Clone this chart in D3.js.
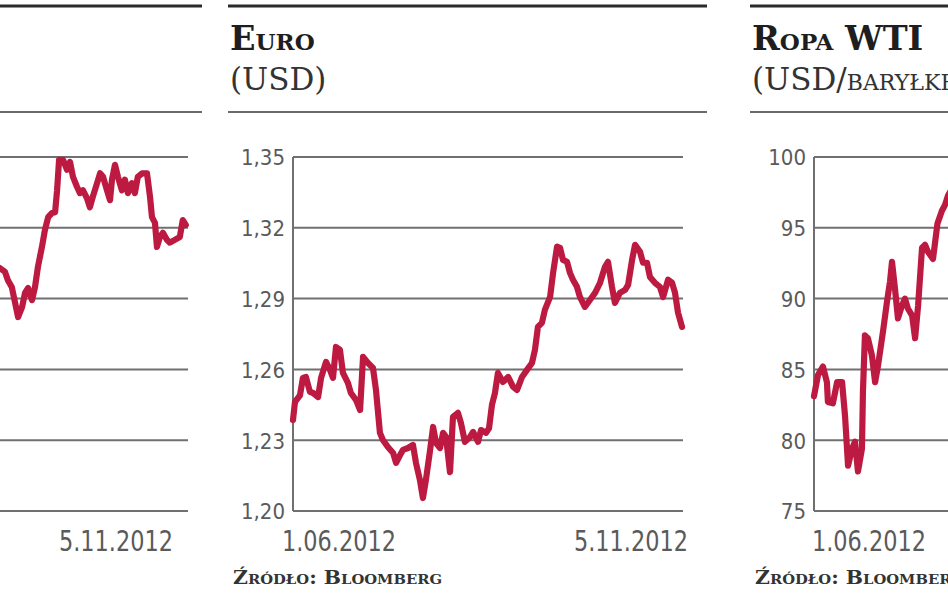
<!DOCTYPE html>
<html><head><meta charset="utf-8">
<script src="https://cdn.jsdelivr.net/npm/d3@7"></script>
<style>
body{margin:0;background:#fff;overflow:hidden}
svg{display:block}
</style></head><body>
<svg id="c" width="948" height="593"></svg>
<script>
// ---- data ----
const startLabel = "1.06.2012", endLabel = "5.11.2012";
const spanDays = 157; // 1.06.2012 -> 5.11.2012

// Left (cropped) panel: values in grid steps (axis labels are outside the picture)
const leftTicks = [0,1,2,3,4,5];
const leftDays = [80,81.3,83.3,84.5,86.1,87.4,88.6,90.2,91.4,92.6,94.2,95.4,96.6,98.2,99.4,100.7,102.3,103.5,104.3,105.1,106.7,108.3,109.5,110.7,112.3,113.5,114.7,116.3,117.5,118.7,120.4,121.6,122.8,124.4,125.6,126.4,127.6,128.8,130.4,131.6,132.8,134.4,135.6,136.8,138.5,140.5,141.7,142.5,143.7,144.5,145.7,146.9,148.5,149.7,151.7,153.7,154.9,156.1];
const leftVals = [3.45,3.43,3.38,3.26,3.16,2.94,2.74,2.88,3.08,3.15,2.98,3.16,3.45,3.73,3.97,4.15,4.21,4.22,4.53,4.96,4.96,4.82,4.93,4.72,4.58,4.49,4.53,4.42,4.29,4.44,4.63,4.77,4.72,4.53,4.39,4.68,4.89,4.72,4.53,4.68,4.49,4.63,4.49,4.72,4.77,4.77,4.44,4.15,4.07,3.73,3.87,3.93,3.83,3.79,3.83,3.87,4.11,4.04];

// Euro (USD)
const euroTicks = [1.20,1.23,1.26,1.29,1.32,1.35];
const euroTickLabels = ["1,20","1,23","1,26","1,29","1,32","1,35"];
const euroDays = [0,0.8,2.8,4.0,5.2,6.8,8.1,10.1,11.3,13.3,14.9,16.1,17.3,18.9,20.1,22.1,23.3,25.4,27.0,28.2,30.2,32.2,33.4,35.0,36.2,38.2,40.3,41.5,43.1,44.3,46.3,48.3,49.5,51.1,52.3,53.5,55.2,56.4,57.6,59.2,60.4,61.6,63.2,64.4,66.4,67.6,69.2,71.3,72.5,74.5,75.7,77.7,78.9,80.1,81.3,82.5,84.5,86.6,88.6,90.2,92.2,94.2,96.2,97.4,98.6,100.2,101.4,103.5,104.7,106.3,107.5,108.7,110.3,111.5,112.7,114.3,115.5,117.5,119.6,121.6,123.6,125.6,126.8,128.4,129.6,131.6,133.7,134.9,136.5,137.7,139.7,140.9,142.5,143.7,145.7,147.7,149.0,151.0,152.6,153.8,155.0,156.6];
const euroVals = [1.2386,1.2462,1.2490,1.2564,1.2568,1.2505,1.2500,1.2483,1.2564,1.2632,1.2598,1.2564,1.2695,1.2683,1.2585,1.2543,1.2500,1.2470,1.2428,1.2653,1.2627,1.2606,1.2513,1.2331,1.2301,1.2271,1.2246,1.2204,1.2237,1.2259,1.2267,1.2280,1.2204,1.2131,1.2055,1.2131,1.2259,1.2356,1.2288,1.2267,1.2331,1.2314,1.2165,1.2399,1.2416,1.2373,1.2293,1.2314,1.2335,1.2293,1.2343,1.2331,1.2350,1.2450,1.2500,1.2585,1.2547,1.2568,1.2526,1.2513,1.2568,1.2598,1.2627,1.2683,1.2780,1.2797,1.2852,1.2907,1.3009,1.3120,1.3115,1.3064,1.3056,1.3009,1.2980,1.2950,1.2907,1.2865,1.2895,1.2924,1.2967,1.3035,1.3056,1.2950,1.2882,1.2924,1.2937,1.2958,1.3064,1.3128,1.3098,1.3052,1.3052,1.2992,1.2967,1.2950,1.2907,1.2980,1.2967,1.2924,1.2840,1.2780];

// Ropa WTI (USD/baryłkę) - visible part only
const wtiTicks = [75,80,85,90,95,100];
const wtiTickLabels = ["75","80","85","90","95","100"];
const wtiDays = [0,1.6,3.6,5.2,5.6,7.6,9.3,11.3,12.5,13.7,15.3,16.5,17.7,19.3,19.7,20.5,21.7,23.3,24.6,25.8,27.8,29.4,30.6,31.4,32.6,33.8,35.4,36.6,37.8,39.5,40.7,41.9,43.5,44.7,45.9,47.9,49.7,51.5,52.7,54.0,55.0];
const wtiVals = [83.1,84.6,85.2,84.1,82.7,82.6,84.1,84.1,81.7,78.2,79.4,79.9,77.8,79.4,83.4,87.4,87.2,86.0,84.1,85.3,87.7,89.8,91.2,92.6,90.7,88.6,89.5,90.0,89.3,88.8,87.2,89.5,93.6,93.8,93.3,92.8,95.3,96.2,96.6,97.3,97.6];

// ---- layout ----
const svg = d3.select("#c");
const LINE = "#bd1a42";
const GRID = "#707070";
const TXT = "#5a5a5a";
const yTop = 157, yBot = 511;

const panels = [
  {x0:-202, x1:188, hx0:-277, hx1:202, days:leftDays, vals:leftVals, ticks:leftTicks, tickLabels:null,
   domain:[0,5], title:null, startLab:false, endLab:true, endLabRight:173},
  {x0:293, x1:683, hx0:228, hx1:707, days:euroDays, vals:euroVals, ticks:euroTicks, tickLabels:euroTickLabels,
   domain:[1.20,1.35], title:"Euro", sub:[["(USD)",false]], startLab:true, startLeft:282, endLab:true, endLabRight:688},
  {x0:814, x1:1204, hx0:750, hx1:1229, days:wtiDays, vals:wtiVals, ticks:wtiTicks, tickLabels:wtiTickLabels,
   domain:[75,100], title:"Ropa WTI", sub:[["(USD/",false],["baryłkę)",true]], startLab:true, startLeft:812, endLab:false}
];

panels.forEach(p => {
  const g = svg.append("g");
  // header rules
  g.append("line").attr("x1",p.hx0).attr("x2",p.hx1).attr("y1",6).attr("y2",6)
    .attr("stroke","#2a2a2a").attr("stroke-width",3);
  g.append("line").attr("x1",p.hx0).attr("x2",p.hx1).attr("y1",112).attr("y2",112)
    .attr("stroke","#6a6a6a").attr("stroke-width",2.2);
  if (p.title) {
    g.append("text").attr("x",p.hx0+2).attr("y",50)
      .attr("font-family","'DejaVu Serif', serif").attr("font-weight","bold")
      .attr("font-size",33.5).style("font-variant","small-caps").attr("fill","#1e1e1e")
      .text(p.title);
    const st = g.append("text").attr("x",p.hx0+2).attr("y",90)
      .attr("font-family","'DejaVu Serif', serif").attr("font-size",31).attr("fill","#333");
    p.sub.forEach(([t,sc]) => {
      const ts = st.append("tspan").text(t);
      if (sc) ts.style("font-variant","small-caps");
    });
    g.append("text").attr("x",p.hx0+5).attr("y",584)
      .attr("font-family","'DejaVu Serif', serif").attr("font-weight","bold")
      .attr("font-size",18).style("font-variant","small-caps").attr("fill","#333")
      .attr("textLength",209).attr("lengthAdjust","spacingAndGlyphs")
      .text("Źródło: Bloomberg");
  }
  const x = d3.scaleLinear().domain([0,spanDays]).range([p.x0,p.x1]);
  const y = d3.scaleLinear().domain(p.domain).range([yBot,yTop]);
  // grid
  g.append("g").selectAll("line").data(p.ticks).join("line")
    .attr("x1",p.x0).attr("x2",p.x1).attr("y1",d=>y(d)).attr("y2",d=>y(d))
    .attr("stroke",GRID).attr("stroke-width",2);
  g.append("line").attr("x1",p.x0).attr("x2",p.x0).attr("y1",yTop).attr("y2",yBot)
    .attr("stroke",GRID).attr("stroke-width",2);
  if (p.tickLabels) {
    g.append("g").selectAll("text").data(p.ticks).join("text")
      .attr("x",p.x0-8).attr("y",d=>y(d)).attr("dy","0.38em")
      .attr("text-anchor","end")
      .attr("font-family","'DejaVu Sans Condensed','DejaVu Sans',sans-serif")
      .style("font-stretch","condensed")
      .attr("font-size",22).attr("fill",TXT)
      .text((d,i)=>p.tickLabels[i]);
  }
  const dateFont = "'DejaVu Sans Condensed','DejaVu Sans',sans-serif";
  if (p.startLab) {
    g.append("text").attr("x",p.startLeft).attr("y",551)
      .attr("font-family",dateFont).style("font-stretch","condensed")
      .attr("font-size",29).attr("fill",TXT)
      .attr("textLength",114).attr("lengthAdjust","spacingAndGlyphs")
      .text(startLabel);
  }
  if (p.endLab) {
    g.append("text").attr("x",p.endLabRight-114).attr("y",551)
      .attr("font-family",dateFont).style("font-stretch","condensed")
      .attr("font-size",29).attr("fill",TXT)
      .attr("textLength",114).attr("lengthAdjust","spacingAndGlyphs")
      .text(endLabel);
  }
  // series
  const data = p.days.map((d,i)=>({d, v:p.vals[i]}));
  g.append("path").datum(data)
    .attr("fill","none").attr("stroke",LINE).attr("stroke-width",6.2)
    .attr("stroke-linejoin","round").attr("stroke-linecap","round")
    .attr("d", d3.line().x(d=>x(d.d)).y(d=>y(d.v)));
});
</script>
</body></html>
